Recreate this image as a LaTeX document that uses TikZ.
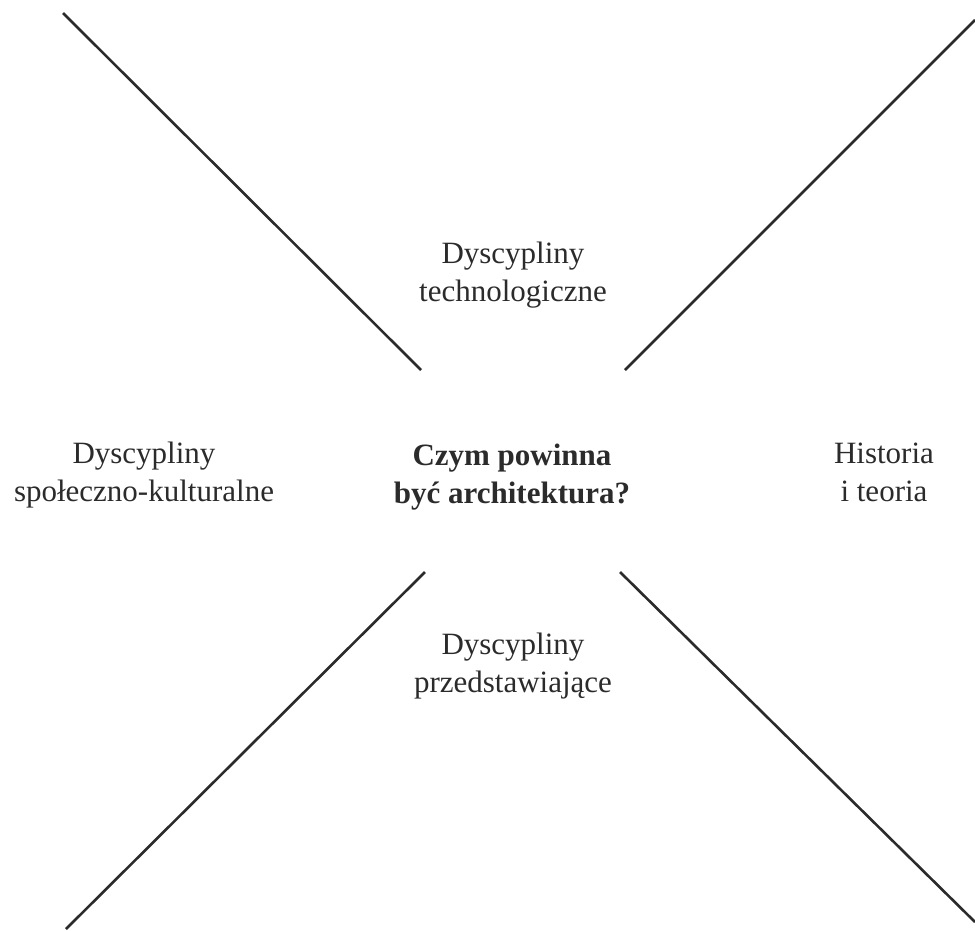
\documentclass[tikz,border=0pt]{standalone}
\usepackage{fontspec}
\newfontfamily\tms{Liberation Serif}[Ligatures=TeX]
\definecolor{ink}{HTML}{2B2B2B}
\tikzset{
  lbl/.style={align=center, inner sep=0pt, text=ink, font=\tms\fontsize{31}{38}\selectfont},
  bar/.style={draw=ink, line width=2.6pt}
}
\begin{document}
\begin{tikzpicture}[x=1pt,y=-1pt]
\useasboundingbox (0,0) rectangle (975,930);
\coordinate (tlA) at (63,13);
\coordinate (tlB) at (421,370);
\coordinate (trA) at (975,20);
\coordinate (trB) at (625,370);
\coordinate (blA) at (425,572);
\coordinate (blB) at (66,929);
\coordinate (brA) at (620,572);
\coordinate (brB) at (975,922);
\draw[bar] (tlA) -- (tlB);
\draw[bar] (trA) -- (trB);
\draw[bar] (blA) -- (blB);
\draw[bar] (brA) -- (brB);
\node[lbl] (top) at (513,275) {Dyscypliny\\technologiczne};
\node[lbl, font=\tms\fontsize{31}{38}\selectfont\bfseries] (mid) at (512,477) {Czym powinna\\być architektura?};
\node[lbl] (left) at (144,475) {Dyscypliny\\społeczno-kulturalne};
\node[lbl] (right) at (884,472.5) {Historia\\i teoria};
\node[lbl] (bot) at (513,666) {Dyscypliny\\przedstawiające};
\end{tikzpicture}
\end{document}
